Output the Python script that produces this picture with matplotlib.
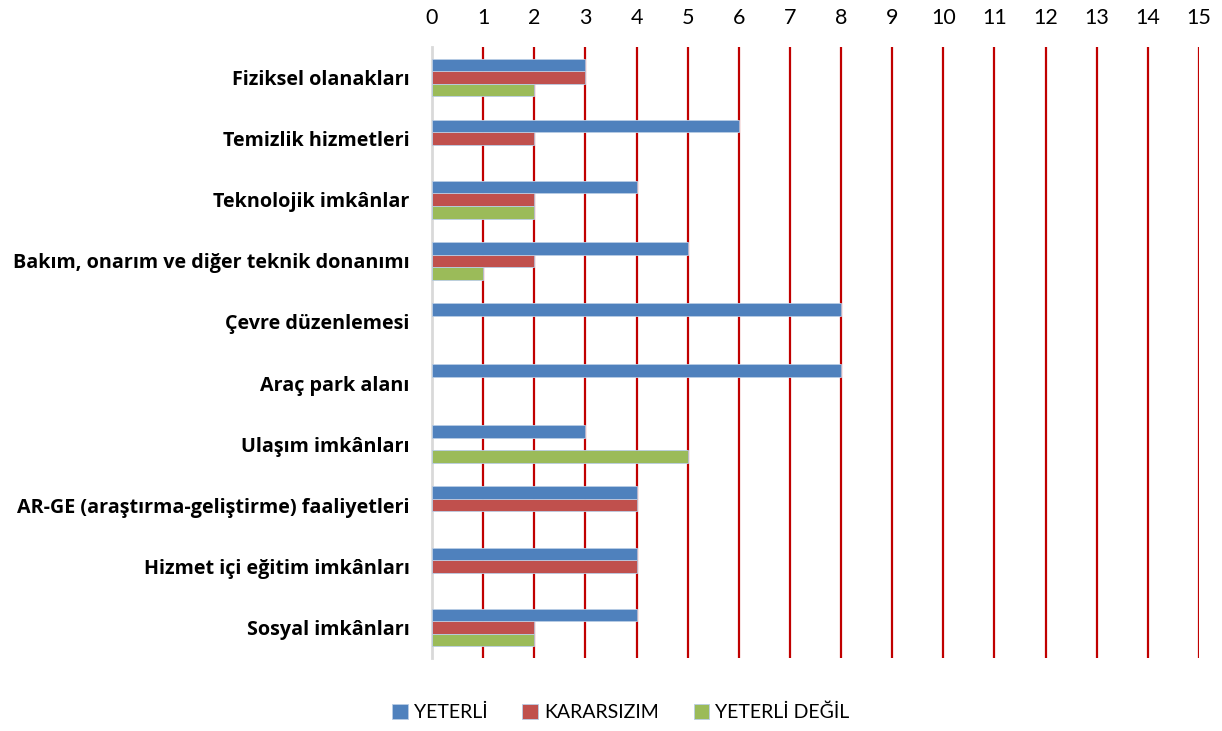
import numpy as np
import matplotlib
matplotlib.use('Agg')
from matplotlib import pyplot as plt

categories = ['Fiziksel olanakları', 'Temizlik hizmetleri', 'Teknolojik imkânlar',
              'Bakım, onarım ve diğer teknik donanımı', 'Çevre düzenlemesi',
              'Araç park alanı', 'Ulaşım imkânları',
              'AR-GE (araştırma-geliştirme) faaliyetleri',
              'Hizmet içi eğitim imkânları', 'Sosyal imkânları']
yeterli = [3, 6, 4, 5, 8, 8, 3, 4, 4, 4]
kararsizim = [3, 2, 2, 2, 0, 0, 0, 4, 4, 2]
yeterli_degil = [2, 0, 2, 1, 0, 0, 5, 0, 0, 2]
series_names = ['YETERLİ', 'KARARSIZIM', 'YETERLİ DEĞİL']
colors = ['#4F81BD', '#C0504D', '#9BBB59']

plt.rcParams['font.family'] = ['Lato', 'DejaVu Sans']

fig = plt.figure(figsize=(12.22, 7.31), dpi=100)
ax = fig.add_axes([0.3535, 0.0999, 0.6277, 0.8358])

y = np.arange(len(categories))
h = 0.205
for i, (vals, name, c) in enumerate(zip([yeterli, kararsizim, yeterli_degil], series_names, colors)):
    lw = [0.6 if v else 0 for v in vals]
    ax.barh(y + (i - 1) * h, vals, height=h, color=c, edgecolor='#B9CDE5', linewidth=lw,
            label=name, zorder=3)

ax.set_xlim(0, 15)
ax.set_ylim(len(categories) - 0.5, -0.5)
ax.set_xticks(range(0, 16))
ax.xaxis.tick_top()
ax.tick_params(axis='x', length=0, labelsize=15.5, pad=14)
ax.tick_params(axis='y', length=0, pad=16)
ax.set_yticks(y)
ax.set_yticklabels(categories, fontweight='bold', fontsize=14.2, family=['Open Sans', 'DejaVu Sans'])

for x in range(1, 16):
    ax.axvline(x, color='#C00000', linewidth=1.6, zorder=1)

for s in ['top', 'right', 'bottom']:
    ax.spines[s].set_visible(False)
ax.spines['left'].set_color('#D9D9D9')
ax.spines['left'].set_linewidth(2)

fig.legend(loc='center', bbox_to_anchor=(0.508, 0.025), ncol=3, frameon=False,
           fontsize=14, handlelength=0.8, handleheight=0.8, handletextpad=0.3,
           columnspacing=1.8)

fig.savefig('out.png', dpi=100)
